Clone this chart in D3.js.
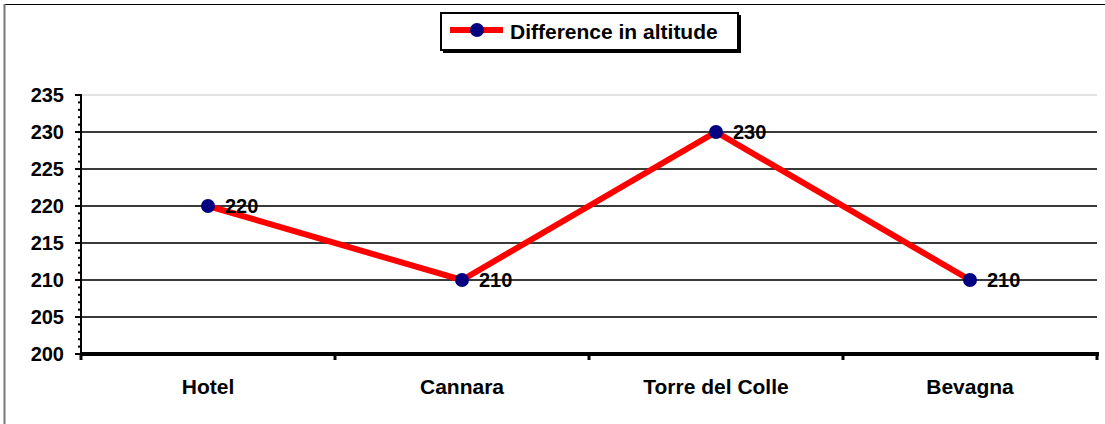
<!DOCTYPE html>
<html><head><meta charset="utf-8">
<script src="https://cdn.jsdelivr.net/npm/d3@7"></script>
<style>body{margin:0;background:#fff}svg{display:block;font-family:Arial,"Liberation Sans",sans-serif;font-weight:bold}</style>
</head><body><svg id="c" width="1105" height="424"></svg>
<script>
const categories = ["Hotel", "Cannara", "Torre del Colle", "Bevagna"];
const altitudes = [220, 210, 230, 210];
const yTicks = [200, 205, 210, 215, 220, 225, 230, 235];
const seriesName = "Difference in altitude";

const svg = d3.select("#c");
const L = 81, R = 1097, T = 95, B = 354;
const x = d3.scaleBand().domain(categories).range([L, R]);
const y = d3.scaleLinear().domain([200, 235]).range([B, T]);

// outer frame
svg.append("line").attr("x1", 4).attr("x2", 1105).attr("y1", 4.5).attr("y2", 4.5).attr("stroke", "#000").attr("stroke-width", 1);
svg.append("line").attr("x1", 4.5).attr("x2", 4.5).attr("y1", 4).attr("y2", 424).attr("stroke", "#777").attr("stroke-width", 2);

// gridlines
yTicks.filter(v => v > 200).forEach(v => {
  svg.append("line").attr("x1", L).attr("x2", R).attr("y1", y(v)).attr("y2", y(v))
    .attr("stroke", v === 235 ? "#c8c8c8" : "#3a3a3a").attr("stroke-width", v === 235 ? 1 : 2);
});

// y axis
svg.append("line").attr("x1", L).attr("x2", L).attr("y1", T).attr("y2", B + 2).attr("stroke", "#000").attr("stroke-width", 2);
d3.range(200, 236).forEach(v => {
  const major = v % 5 === 0;
  svg.append("line").attr("x1", major ? L - 6 : L - 3).attr("x2", L + 1).attr("y1", y(v)).attr("y2", y(v))
    .attr("stroke", "#000").attr("stroke-width", 2);
});
svg.selectAll(".yl").data(yTicks).join("text").attr("x", 64).attr("y", d => y(d)).attr("dy", "0.36em")
  .attr("text-anchor", "end").attr("font-size", 20).text(d => d);

// x axis
svg.append("line").attr("x1", L - 1).attr("x2", R + 2).attr("y1", B).attr("y2", B).attr("stroke", "#000").attr("stroke-width", 4);
const bounds = categories.map(c => x(c)).concat([R]);
bounds.forEach(b => {
  svg.append("line").attr("x1", b).attr("x2", b).attr("y1", B).attr("y2", B + 6).attr("stroke", "#000").attr("stroke-width", 3);
});
svg.selectAll(".xl").data(categories).join("text").attr("x", d => x(d) + x.bandwidth() / 2).attr("y", 394)
  .attr("text-anchor", "middle").attr("font-size", 21).text(d => d);

// series
const pts = categories.map((c, i) => [x(c) + x.bandwidth() / 2, y(altitudes[i])]);
svg.append("path").attr("d", d3.line()(pts)).attr("fill", "none").attr("stroke", "#ff0000").attr("stroke-width", 6).attr("stroke-linejoin", "miter");
svg.selectAll(".pt").data(pts).join("circle").attr("cx", d => d[0]).attr("cy", d => d[1]).attr("r", 7).attr("fill", "#000080");
svg.selectAll(".dl").data(pts).join("text").attr("x", d => d[0] + 17).attr("y", d => d[1]).attr("dy", "0.36em")
  .attr("font-size", 20).text((d, i) => altitudes[i]);

// legend
const lg = svg.append("g");
lg.append("rect").attr("x", 443).attr("y", 15).attr("width", 298).attr("height", 38).attr("fill", "#000");
lg.append("rect").attr("x", 441).attr("y", 13).attr("width", 297).attr("height", 37).attr("fill", "#fff").attr("stroke", "#000").attr("stroke-width", 2);
lg.append("line").attr("x1", 450).attr("x2", 503).attr("y1", 30).attr("y2", 30).attr("stroke", "#ff0000").attr("stroke-width", 6);
lg.append("circle").attr("cx", 477).attr("cy", 30).attr("r", 7).attr("fill", "#000080");
lg.append("text").attr("x", 510).attr("y", 31).attr("dy", "0.36em").attr("font-size", 21).text(seriesName);
</script></body></html>
